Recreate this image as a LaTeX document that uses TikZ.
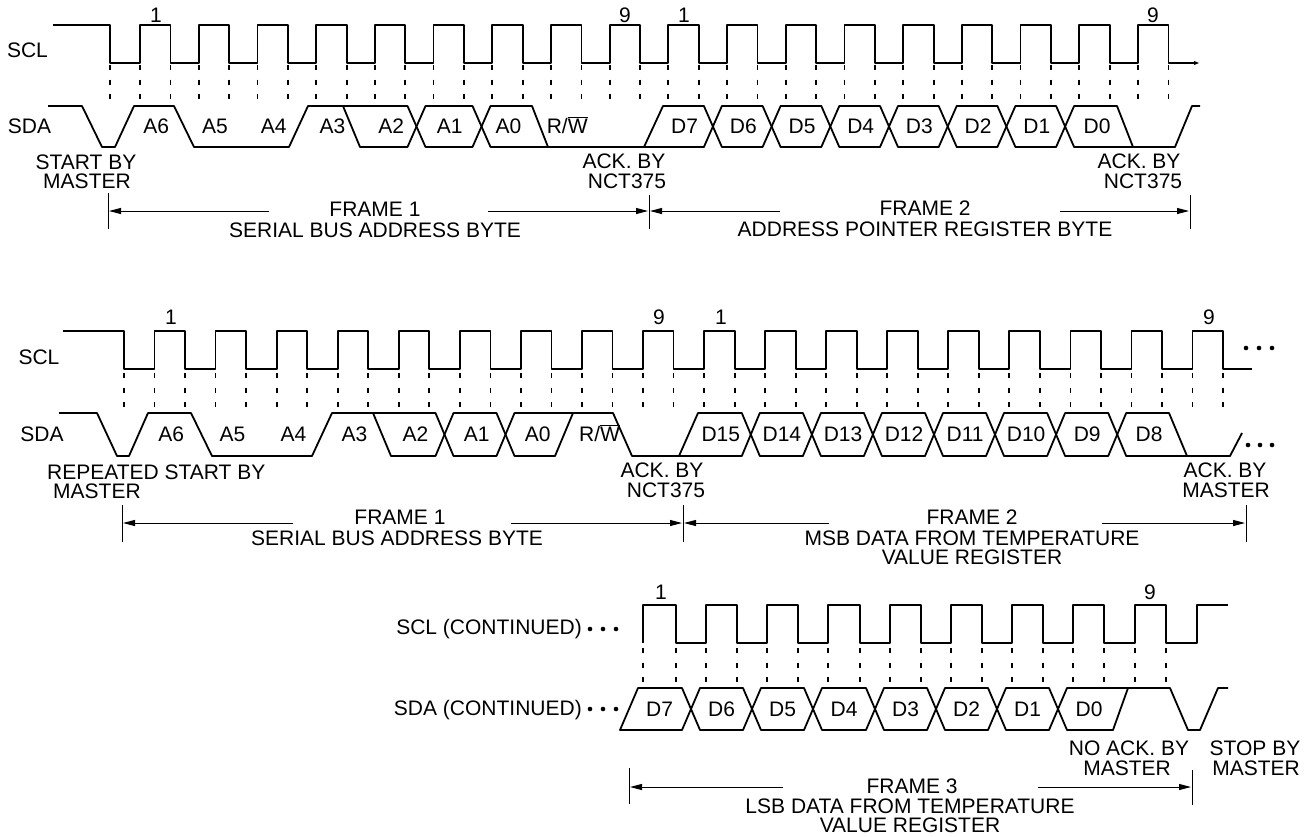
\documentclass[tikz,border=0pt]{standalone}
\usepackage{fontspec}
\setmainfont{Liberation Sans}
\usetikzlibrary{arrows.meta}
\begin{document}
\begin{tikzpicture}[x=1pt,y=-1pt,
  sig/.style={line width=1.8pt, line join=round},
  dsh/.style={line width=1.8pt, dash pattern=on 5pt off 9.5pt},
  barline/.style={line width=1pt},
  arr/.style={line width=1pt, -{Triangle[length=12pt,width=6pt]}},
  lbl/.style={font=\fontsize{21}{21}\selectfont, inner sep=0pt, anchor=base, yshift=-7.5pt},
  lblw/.style={lbl, anchor=base west},
  lble/.style={lbl, anchor=base east}]
\useasboundingbox (0,0) rectangle (1313,836);

% ================= ROW 1 =================
\node[lbl] (scl1) at (27.5,50) {SCL};
\node[lbl] (sda1) at (29.5,126) {SDA};
\node[lbl] (r1n1) at (156,15) {1};
\node[lbl] (r1n9) at (625,15) {9};
\node[lbl] (r1m1) at (684,15) {1};
\node[lbl] (r1m9) at (1153,15) {9};

\draw[sig] (53,25) -- (110,25) -- (110,63)
  foreach \k in {0,...,17}{ -- ({140+58.7*\k},63) -- ({140+58.7*\k},25) -- ({170.5+58.7*\k},25) -- ({170.5+58.7*\k},63)}
  -- (1197,63);
\fill (1199,63) -- (1194,61) -- (1194,65) -- cycle;
\draw[dsh] (110,65) -- ++(0,35);
\foreach \k in {0,...,17}{
  \draw[dsh] ({140+58.7*\k},65) -- ++(0,35);
  \draw[dsh] ({170.5+58.7*\k},65) -- ++(0,35);
}

\draw[sig] (48,106) -- (82,106) -- (102,147) -- (115,147) -- (134,106) -- (174,106) -- (194,147) -- (289,147) -- (308,106) -- (407.5,106) -- (416.5,126.5);
\draw[sig] (343,106) -- (360,147) -- (407.5,147) -- (416.5,126.5);
\draw[sig] (416.5,126.5) -- (425.5,106) -- (472.5,106) -- (481.5,126.5) -- (472.5,147) -- (425.5,147) -- cycle;
\draw[sig] (481.5,126.5) -- (490.5,106) -- (532,106) -- (548,147) -- (644,147) -- (663,106) -- (703.9,106) -- (712.9,126.5);
\draw[sig] (481.5,126.5) -- (490.5,147) -- (548,147);
\draw[sig] (644,147) -- (703.9,147) -- (712.9,126.5);
\foreach \a/\b in {712.9/771.6, 771.6/830.3, 830.3/889, 889/947.7, 947.7/1006.4, 1006.4/1065.1}{
  \draw[sig] (\a,126.5) -- ({\a+9},106) -- ({\b-9},106) -- (\b,126.5) -- ({\b-9},147) -- ({\a+9},147) -- cycle;
}
\draw[sig] (1065.1,126.5) -- (1074.1,106) -- (1117,106) -- (1133,147);
\draw[sig] (1065.1,126.5) -- (1074.1,147) -- (1175,147) -- (1192,106) -- (1200,106);

\foreach \x/\t [count=\i] in {156.3/A6, 215/A5, 273.7/A4, 332.4/A3, 391.1/A2, 449.8/A1, 508.5/A0, 684.6/D7, 743.3/D6, 802/D5, 860.7/D4, 919.4/D3, 978.1/D2, 1036.8/D1, 1097/D0}{
  \node[lbl] (r1b\i) at (\x,126) {\t};
}
\node[lbl] (r1rw) at (567.2,126) {R/$\overline{\mbox{W}}$};

\node[lbl] (st1) at (86,162) {START BY};
\node[lbl] (st2) at (87,181) {MASTER};
\node[lbl] (ak1a) at (624,161) {ACK. BY};
\node[lbl] (ak1b) at (627,181) {NCT375};
\node[lbl] (ak2a) at (1139,161) {ACK. BY};
\node[lbl] (ak2b) at (1143,181) {NCT375};

\coordinate (fa) at (109,211);
\coordinate (fb) at (648,211);
\coordinate (fc) at (650,211);
\coordinate (fd) at (1189,211);
\draw[barline] (108,193) -- (108,229);
\draw[barline] (649,195) -- (649,229);
\draw[barline] (1190,195) -- (1190,229);
\draw[arr] (269,211) -- (fa);
\draw[arr] (488,211) -- (fb);
\draw[arr] (780,211) -- (fc);
\draw[arr] (1060,211) -- (fd);
\node[lbl] (fr1) at (375,209) {FRAME 1};
\node[lbl] (fr1t) at (375,230) {SERIAL BUS ADDRESS BYTE};
\node[lbl] (fr2) at (925,208) {FRAME 2};
\node[lbl] (fr2t) at (925,229) {ADDRESS POINTER REGISTER BYTE};

% ================= ROW 2 =================
\node[lbl] (scl2) at (39,357) {SCL};
\node[lbl] (sda2) at (42,434) {SDA};
\node[lbl] (r2n1) at (171,317) {1};
\node[lbl] (r2n9) at (659,317) {9};
\node[lbl] (r2m1) at (721,317) {1};
\node[lbl] (r2m9) at (1209,317) {9};

\draw[sig] (63,331) -- (124,331) -- (124,369)
  foreach \k in {0,...,17}{ -- ({154.5+61.06*\k},369) -- ({154.5+61.06*\k},331) -- ({185.1+61.06*\k},331) -- ({185.1+61.06*\k},369)}
  -- (1252,369);
\foreach \x in {1246,1259,1272}{ \fill (\x,348) circle (2.3); }
\draw[dsh] (124,373) -- ++(0,35);
\foreach \k in {0,...,17}{
  \draw[dsh] ({154.5+61.06*\k},373) -- ++(0,35);
  \draw[dsh] ({185.1+61.06*\k},373) -- ++(0,35);
}

\draw[sig] (59,413) -- (97,413) -- (117,456) -- (129,456) -- (148,413) -- (191,413) -- (212,456) -- (312,456) -- (332,413) -- (435.5,413) -- (444.5,434.5);
\draw[sig] (373,413) -- (391,456) -- (435.5,456) -- (444.5,434.5);
\draw[sig] (444.5,434.5) -- (453.5,413) -- (496.5,413) -- (505.5,434.5) -- (496.5,456) -- (453.5,456) -- cycle;
\draw[sig] (505.5,434.5) -- (514.5,413) -- (613,413) -- (632,456) -- (679,456) -- (698,413) -- (741.8,413) -- (750.8,434.5);
\draw[sig] (505.5,434.5) -- (514.5,456) -- (555,456) -- (573,413);
\draw[sig] (679,456) -- (741.8,456) -- (750.8,434.5);
\foreach \a/\b in {750.8/811.9, 811.9/872.9, 872.9/934, 934/995, 995/1056.1, 1056.1/1117.2}{
  \draw[sig] (\a,434.5) -- ({\a+9},413) -- ({\b-9},413) -- (\b,434.5) -- ({\b-9},456) -- ({\a+9},456) -- cycle;
}
\draw[sig] (1117.2,434.5) -- (1126.2,413) -- (1169,413) -- (1187,456);
\draw[sig] (1117.2,434.5) -- (1126.2,456) -- (1230,456) -- (1242,433);
\foreach \x in {1248,1260,1272}{ \fill (\x,445) circle (2.3); }

\foreach \x/\t [count=\i] in {171.3/A6, 232.4/A5, 293.4/A4, 354.5/A3, 415.5/A2, 476.6/A1, 537.7/A0, 720.8/D15, 781.9/D14, 843/D13, 904/D12, 965.1/D11, 1026.1/D10, 1087.2/D9, 1149/D8}{
  \node[lbl] (r2b\i) at (\x,434) {\t};
}
\node[lbl] (r2rw) at (599.5,434) {R/$\overline{\mbox{W}}$};

\node[lblw] (rs1) at (47,472) {REPEATED START BY};
\node[lblw] (rs2) at (53,491) {MASTER};
\node[lbl] (ak3a) at (662,470) {ACK. BY};
\node[lbl] (ak3b) at (666,490) {NCT375};
\node[lbl] (ak4a) at (1225,470) {ACK. BY};
\node[lbl] (ak4b) at (1226,490) {MASTER};

\coordinate (ga) at (123,523);
\coordinate (gb) at (682,523);
\coordinate (gc) at (684,523);
\coordinate (gd) at (1245,523);
\draw[barline] (122,505) -- (122,542);
\draw[barline] (683,505) -- (683,542);
\draw[barline] (1246,505) -- (1246,542);
\draw[arr] (293,523) -- (ga);
\draw[arr] (511,523) -- (gb);
\draw[arr] (829,523) -- (gc);
\draw[arr] (1102,523) -- (gd);
\node[lbl] (gr1) at (400,517) {FRAME 1};
\node[lbl] (gr1t) at (397,538) {SERIAL BUS ADDRESS BYTE};
\node[lbl] (gr2) at (972,517) {FRAME 2};
\node[lbl] (gr2t) at (972,538) {MSB DATA FROM TEMPERATURE};
\node[lbl] (gr2u) at (972,557) {VALUE REGISTER};

% ================= ROW 3 =================
\node[lble] (scl3) at (582,627) {SCL (CONTINUED)};
\node[lble] (sda3) at (582,708) {SDA (CONTINUED)};
\foreach \x in {590,603,616}{ \fill (\x,629) circle (2.3); \fill (\x,709) circle (2.3); }
\node[lbl] (r3n1) at (661,592) {1};
\node[lbl] (r3n9) at (1150,592) {9};

\draw[sig] (643,643)
  foreach \r/\f in {643/676, 706/737, 767/798, 828/860, 890/921, 951/982, 1012/1043, 1073/1104, 1135/1166}{ -- (\r,643) -- (\r,605) -- (\f,605) -- (\f,643)}
  -- (1197,643) -- (1197,605) -- (1228,605);
\foreach \r/\f in {643/676, 706/737, 767/798, 828/860, 890/921, 951/982, 1012/1043, 1073/1104, 1135/1166}{
  \draw[dsh] (\r,648) -- ++(0,35);
  \draw[dsh] (\f,648) -- ++(0,35);
}

\draw[sig] (691,709) -- (682,688) -- (638,688) -- (620,730) -- (682,730) -- cycle;
\foreach \a/\b in {691/752, 752/813, 813/875, 875/936, 936/997, 997/1058}{
  \draw[sig] (\a,709) -- ({\a+9},688) -- ({\b-9},688) -- (\b,709) -- ({\b-9},730) -- ({\a+9},730) -- cycle;
}
\draw[sig] (1058,709) -- (1067,688) -- (1170,688) -- (1188,730) -- (1200,730) -- (1218,688) -- (1228,688);
\draw[sig] (1058,709) -- (1067,730) -- (1113,730) -- (1128,688);

\foreach \x/\t [count=\i] in {659.5/D7, 721.5/D6, 782.5/D5, 844/D4, 905.5/D3, 966.5/D2, 1027.5/D1, 1089/D0}{
  \node[lbl] (r3b\i) at (\x,709) {\t};
}

\node[lbl] (na1) at (1129,748) {NO ACK. BY};
\node[lbl] (na2) at (1127,768) {MASTER};
\node[lbl] (sp1) at (1255,748) {STOP BY};
\node[lbl] (sp2) at (1256,768) {MASTER};

\coordinate (ha) at (630,787);
\coordinate (hb) at (1191,787);
\draw[barline] (629,768) -- (629,804);
\draw[barline] (1192,770) -- (1192,805);
\draw[arr] (783,787) -- (ha);
\draw[arr] (1038,787) -- (hb);
\node[lbl] (hr3) at (912,786) {FRAME 3};
\node[lbl] (hr3t) at (910,806) {LSB DATA FROM TEMPERATURE};
\node[lbl] (hr3u) at (910,825) {VALUE REGISTER};
\end{tikzpicture}
\end{document}
